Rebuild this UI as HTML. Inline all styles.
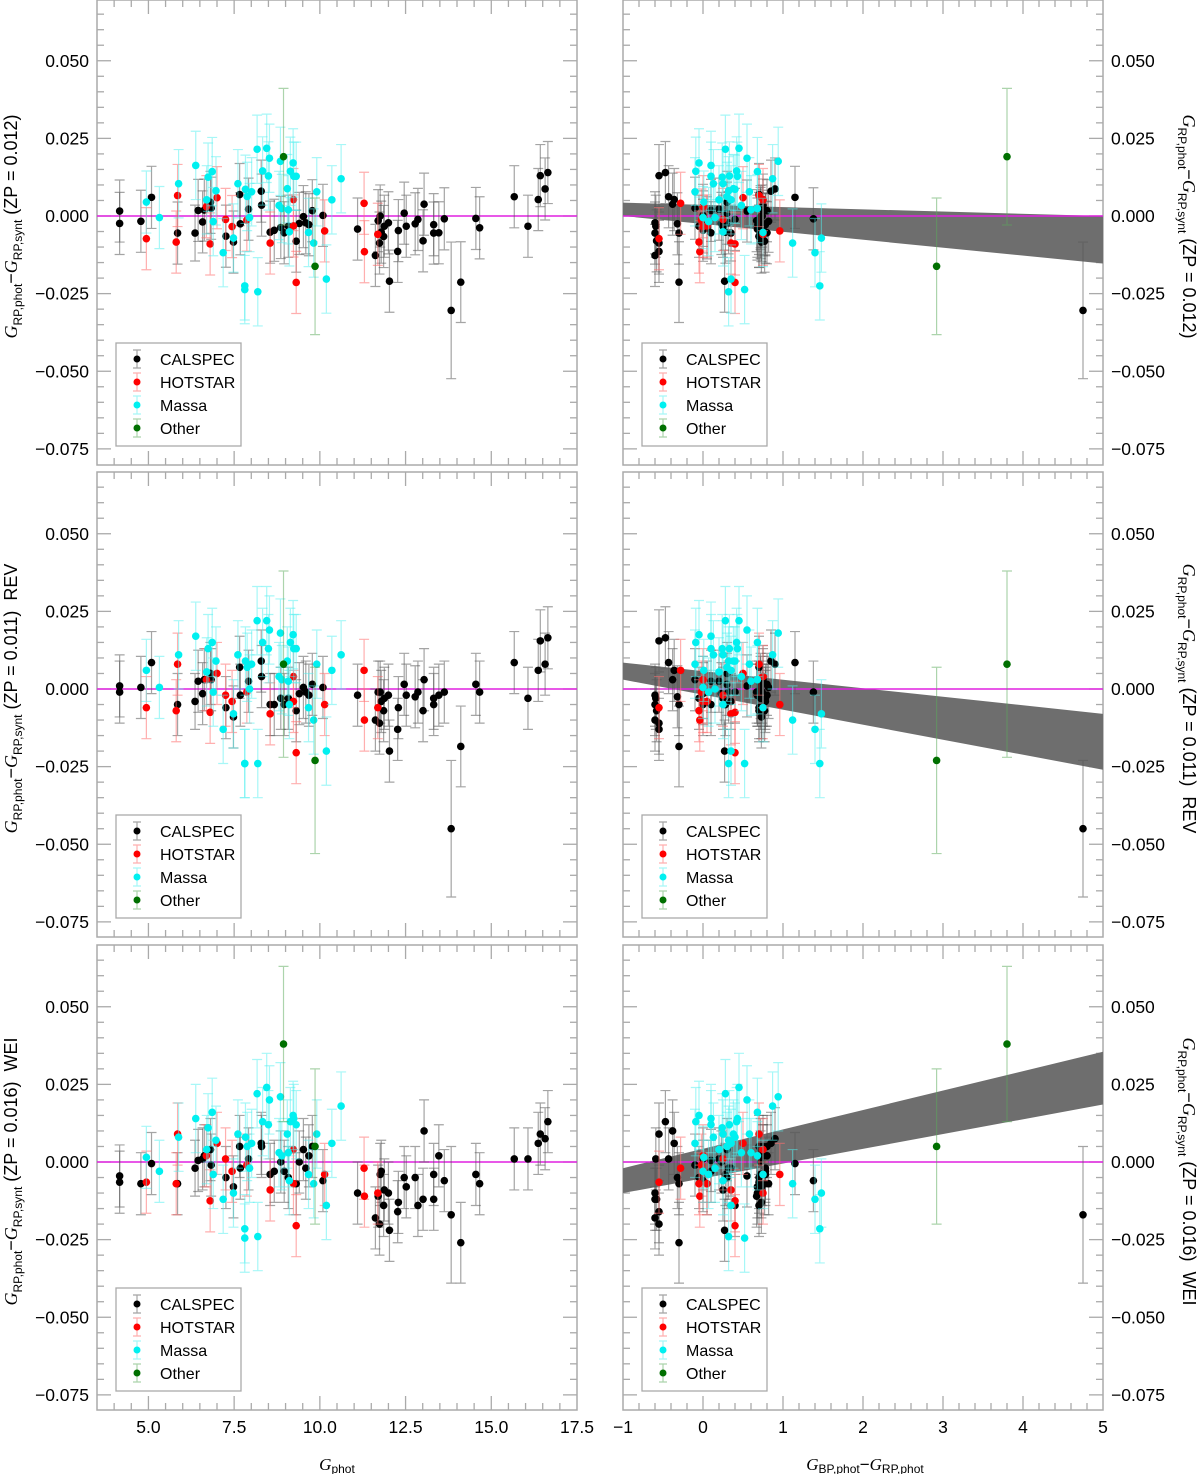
<!DOCTYPE html>
<html><head><meta charset="utf-8"><style>
body{margin:0;background:#fff;}
svg text{font-family:"Liberation Sans",sans-serif;}
</style></head><body>
<svg id="chart" width="1200" height="1474" viewBox="0 0 1200 1474" xmlns="http://www.w3.org/2000/svg"></svg>
<script>
// ---------- data ----------
const blackG   = [4.16,4.16,4.78,5.09,5.85,6.36,6.45,6.58,6.63,6.81,6.83,7.26,7.48,7.66,7.68,7.92,8.29,8.30,8.55,8.67,8.86,8.96,9.08,9.31,9.40,9.52,9.59,9.68,9.78,10.09,11.10,11.62,11.70,11.74,11.76,11.79,11.86,11.88,12.00,12.03,12.27,12.29,12.46,12.52,12.78,12.86,13.01,13.04,13.32,13.32,13.47,13.63,13.83,14.11,14.55,14.66,15.67,16.07,16.37,16.43,16.57,16.65];
const blackC   = [0.55,0.7,0.82,1.15,-0.3,0.35,0.1,0.0,0.75,0.3,-0.1,0.7,0.73,0.7,0.78,0.2,0.85,0.75,0.28,0.0,0.72,0.1,-0.05,0.77,0.23,0.72,0.32,0.75,0.8,0.0,0.68,-0.6,0.67,-0.55,0.74,0.78,0.7,0.25,-0.6,0.27,-0.55,0.73,0.3,0.68,-0.32,0.4,-0.58,-0.38,0.78,-0.6,0.8,1.38,4.75,-0.30,0.72,0.05,-0.43,-0.59,-0.36,-0.55,0.9,-0.47];
const blackTop = [1.6,-2.4,-1.7,6.0,-5.5,-5.5,1.8,-1.9,1.9,4.4,2.5,-6.5,-8.4,6.9,-2.5,2.2,8.0,3.5,-5.2,-4.6,-3.7,-5.4,-3.3,-8.1,-2.4,-0.2,-2.2,-2.8,1.7,0.2,-4.2,-12.7,-1.5,-8.7,0,-5.2,-6.6,-3.3,-2.2,-21,-11.4,-4.7,0.9,-3.3,-2.5,-1.1,-8.0,3.8,-2.8,-5.5,-5.4,-0.9,-30.4,-21.3,-0.8,-3.8,6.2,-3.3,5.3,13.0,8.7,14.0];
const blackRev = [1.0,-1.0,0.5,8.5,-5,-4,2.5,-1.5,3,5,3,-6,-9,7,-2,2.5,9,4,-5,-5,-3,-5,-3,-7,-1.5,0.5,-1,-2,1.5,0.5,-2,-10,-1,-11,-1,-4,-7,-3,-2,-20,-13,-6,1.5,-2,-2.5,-1,-7,3,-3,-5,-2,-1,-45,-18.5,1.5,-1,8.5,-3,6,15.5,8,16.5];
const blackWei = [-4.5,-6.5,-7,-0.5,-7,-2,0.5,1,2,4,-1,-5,-8,5,-2,1,6,5,-4,-3,0,-3,-5,-7,0,4,-2,2,5,-6,-10,-18,-11,-20,-4,-3,-14,-9,-10,-22,-16,-13,-5,-8,-5,-14,-12,10,-4,-12,2,-6,-17,-26,-4,-7,1,1,6,9,7.5,13];
const blackErr = [10,10,10,10,10,9,10,10,10,10,10,10,10,10,10,10,10,10,10,10,10,10,10,10,10,10,10,10,10,10,10,10,10,10,10,10,10,10,10,10,10,10,10,10,10,10,10,10,10,10,10,10,22,13,10,10,10,10,10,10,10,10];

const redG   = [4.94,5.85,5.81,6.69,6.80,7.00,7.25,7.44,7.87,8.55,9.23,9.23,9.31,10.14,11.29,11.30,11.69];
const redC   = [-0.55,0.7,-0.05,0.0,0.4,0.5,0.25,0.0,-0.02,0.35,0.75,0.05,0.4,0.96,-0.28,-0.04,0.75];
const redTop = [-7.3,6.6,-8.4,3.0,-9.0,5.9,-1.1,-3.4,-1.3,-8.7,5.3,-3.2,-21.4,-4.8,4.1,-11.5,-5.9];
const redRev = [-6,8,-7,3,-7.5,5,-2,-4,-1,-8,4,-4,-20.5,-5,6,-10,-6];
const redWei = [-6.5,9,-7,2,-12.5,6,1,-3,-1,-9,4,-7,-20.5,-4,-2,-11,-10];
const redErr = [10,10,10,10,10,10,10,10,10,10,10,10,10,10,10,10,10];

const cyanG   = [4.94,5.32,5.88,6.38,6.70,6.74,6.86,6.89,6.97,7.18,7.48,7.61,7.81,7.81,7.83,7.88,7.95,8.01,8.17,8.19,8.33,8.45,8.50,8.53,8.81,8.85,8.89,9.05,9.08,9.11,9.14,9.22,9.24,9.31,9.67,9.82,9.91,10.19,10.35,10.62];
const cyanC   = [0.01,0.0,0.13,0.10,0.2,0.24,0.68,0.07,0.32,1.40,1.48,0.25,1.46,0.52,0.40,0.3,0.15,-0.10,0.28,0.32,0.42,0.45,0.33,0.55,0.48,0.94,0.68,0.38,0.6,0.25,-0.09,-0.05,0.43,0.1,0.75,1.12,0.58,0.35,0.35,0.87];
const cyanTop = [4.5,-0.5,10.4,16.3,5.2,12.5,14.3,-1.8,8.1,-11.8,-7.1,10.4,-22.5,-23.7,8.6,6.3,-0.5,7.8,21.5,-24.4,14.5,21.8,12.9,18.6,3.4,17.6,2.4,8.8,2.0,-5.1,14.4,17.1,12.8,12.8,-5.3,-8.7,7.8,-20.3,5.2,12.0];
const cyanRev = [6,0.5,11,17,5.5,13,15,-1,9,-13,-8,11,-24,-24,9,7,0,8,22,-24,15,22,13,19,4,18,3,9,2.5,-5,15,17.5,13,13,-6,-10,8,-20,6,11];
const cyanWei = [1.5,-3,8,14,4,11,16,-4,7,-12,-10,9,-21.5,-24.5,8,5,-2,6,22,-24,13,24,12,20,3,21,2,9,3,-6,13,15,14,12,-4,-7,9,-14,6,18];
const cyanErr = [10,10,11,11,11,11,11,11,11,11,11,11,11,11,11,11,11,11,11,11,11,11,11,11,11,11,11,11,11,11,11,11,11,11,11,11,11,11,11,11];

const greenG   = [8.94,9.86];
const greenC   = [3.8,2.92];
const greenTop = [19.1,-16.2];
const greenRev = [8,-23];
const greenWei = [38,5];
const greenErr = [22,22];
const greenErrRev = [30,30];
const greenErrWei = [25,25];

// fit bands: values (mmag) at colour -1 and 5
const bandX      = [-1,5];
const bandTopHi  = [4.3,0];
const bandTopLo  = [0,-15.3];
const bandRevHi  = [8.5,-8];
const bandRevLo  = [3,-26];
const bandWeiHi  = [-2,35.5];
const bandWeiLo  = [-10,18.5];

const yTicks = [0.050,0.025,0.000,-0.025,-0.050,-0.075];
const yTickLabels = ["0.050","0.025","0.000","\u22120.025","\u22120.050","\u22120.075"];
const xTicksL = [5.0,7.5,10.0,12.5,15.0,17.5];
const xTickLabelsL = ["5.0","7.5","10.0","12.5","15.0","17.5"];
const xTicksR = [-1,0,1,2,3,4,5];
const xTickLabelsR = ["\u22121","0","1","2","3","4","5"];
const legendLabels = ["CALSPEC","HOTSTAR","Massa","Other"];
const zpLabels = ["0.012","0.011","0.016"];
const suffix = ["","REV","WEI"];

// ---------- drawing ----------
const NS="http://www.w3.org/2000/svg";
const svg=document.getElementById('chart');
function el(tag,attrs,parent){const e=document.createElementNS(NS,tag);for(const k in attrs)e.setAttribute(k,attrs[k]);(parent||svg).appendChild(e);return e;}

const rowTop=[0,472,945], rowBot=[465,937,1410], zeroY=[216,689,1162];
const PX=3.105; // px per mmag
const AX="#aaaaaa";
const cats=[
 {name:'calspec',dot:'#000',bar:'rgba(90,90,90,0.55)'},
 {name:'hotstar',dot:'#ff0000',bar:'rgba(255,110,110,0.55)'},
 {name:'massa',dot:'#00f0f0',bar:'rgba(80,240,240,0.5)'},
 {name:'other',dot:'#007000',bar:'rgba(90,170,90,0.5)'}
];
const Gs=[blackG,redG,cyanG,greenG], Cs=[blackC,redC,cyanC,greenC];
const R=[[blackTop,redTop,cyanTop,greenTop],[blackRev,redRev,cyanRev,greenRev],[blackWei,redWei,cyanWei,greenWei]];
const E=[[blackErr,redErr,cyanErr,greenErr],[blackErr,redErr,cyanErr,greenErrRev],[blackErr,redErr,cyanErr,greenErrWei]];
const bands=[[bandTopHi,bandTopLo],[bandRevHi,bandRevLo],[bandWeiHi,bandWeiLo]];

for(let row=0;row<3;row++){
 for(let side=0;side<2;side++){
  const x0=side?623:97, x1=side?1103:577, y0=rowTop[row], y1=rowBot[row];
  const xmin=side?-1:3.5, xmax=side?5:17.5;
  const sx=v=>x0+(v-xmin)/(xmax-xmin)*(x1-x0);
  const sy=m=>zeroY[row]-m*PX;
  const g=el('g',{});
  
  
  const clipId=`clip${row}${side}`;
  const cp=el('clipPath',{id:clipId},g); el('rect',{x:x0,y:y0,width:x1-x0,height:y1-y0},cp);
  const fr=el('rect',{x:x0,y:y0,width:x1-x0,height:y1-y0,fill:'none',stroke:AX,'stroke-width':1.5},g);
  
  
  for(let v=-0.080;v<=0.0701;v+=0.005){
   const y=sy(v*1000); if(y<y0+1||y>y1-1) continue;
   const major=Math.abs(Math.round(v*1000)%25)===0;
   const L=major?14:7;
   el('line',{x1:x0,x2:x0+L,y1:y,y2:y,stroke:AX,'stroke-width':1.3},g);
   el('line',{x1:x1,x2:x1-L,y1:y,y2:y,stroke:AX,'stroke-width':1.3},g);
  }
  const step=side?0.2:0.5;
  for(let v=xmin;v<=xmax+1e-6;v+=step){
   const x=sx(v); if(x<x0+1||x>x1-1) continue;
   const major=side?Math.abs(v-Math.round(v))<1e-6:Math.abs(v/2.5-Math.round(v/2.5))<1e-6;
   const L=major?14:7;
   el('line',{x1:x,x2:x,y1:y1,y2:y1-L,stroke:AX,'stroke-width':1.3},g);
   el('line',{x1:x,x2:x,y1:y0,y2:y0+L,stroke:AX,'stroke-width':1.3},g);
  }
  yTicks.forEach((v,i)=>{
   const t=el('text',{x:side?1111:89,y:sy(v*1000)+6,'font-size':17.5,'text-anchor':side?'start':'end',fill:'#000'},g);
   t.textContent=yTickLabels[i];
   
   
  });
  if(row===2){
   const tv=side?xTicksR:xTicksL, tl=side?xTickLabelsR:xTickLabelsL;
   tv.forEach((v,i)=>{
    const t=el('text',{x:sx(v),y:1433,'font-size':17.5,'text-anchor':'middle',fill:'#000'},g);
    t.textContent=tl[i];
    
    
   });
  }
  const pg=el('g',{'clip-path':`url(#${clipId})`},g);
  if(side){
   const [hi,lo]=bands[row];
   const pts=[[bandX[0],hi[0]],[bandX[1],hi[1]],[bandX[1],lo[1]],[bandX[0],lo[0]]].map(p=>sx(p[0])+','+sy(p[1])).join(' ');
   const b=el('polygon',{points:pts,fill:'#6e6e6e'},pg);
   
   
  }
  const zl=el('line',{x1:x0,x2:x1,y1:sy(0),y2:sy(0),stroke:'#e020e0','stroke-width':1.6},pg);
  
  
  for(let c=0;c<4;c++){
   const xs=side?Cs[c]:Gs[c], rs=R[row][c], es=E[row][c];
   for(let i=0;i<xs.length;i++){
    const x=sx(xs[i]), y=sy(rs[i]), e=es[i]*PX;
    const eb=el('path',{d:`M${x},${y-e}V${y+e}M${x-5},${y-e}H${x+5}M${x-5},${y+e}H${x+5}`,stroke:cats[c].bar,'stroke-width':1.2,fill:'none'},pg);
    
    
   }
   for(let i=0;i<xs.length;i++){
    const d=el('circle',{cx:sx(xs[i]),cy:sy(rs[i]),r:3.8,fill:cats[c].dot},pg);
    
    
   }
  }
  const lx=x0+19, ly=y0+343;
  const lg=el('g',{},g);
  
  
  el('rect',{x:lx,y:ly,width:125,height:103,fill:'#fff',stroke:AX,'stroke-width':1.3},lg);
  legendLabels.forEach((lab,i)=>{
   const yy=ly+16+i*23;
   const ent=el('g',{},lg);
   
   
   el('path',{d:`M${lx+21},${yy-9}V${yy+9}M${lx+17},${yy-9}H${lx+25}M${lx+17},${yy+9}H${lx+25}`,stroke:cats[i].bar,'stroke-width':1.2,fill:'none'},ent);
   el('circle',{cx:lx+21,cy:yy,r:3.5,fill:cats[i].dot},ent);
   const t=el('text',{x:lx+44,y:yy+6,'font-size':16,fill:'#000'},ent);
   t.textContent=lab;
  });
  const cy=(y0+y1)/2-6;
  const tx=side?1183:17;
  const title=el('text',{transform:`translate(${tx},${cy}) rotate(${side?90:-90})`,'text-anchor':'middle','font-size':18,fill:'#000'},g);
  
  
  title.innerHTML=`<tspan font-style="italic" font-family="Liberation Serif">G</tspan><tspan font-size="12" dy="5">RP,phot</tspan><tspan dy="-5">\u2212</tspan><tspan font-style="italic" font-family="Liberation Serif">G</tspan><tspan font-size="12" dy="5">RP,synt</tspan><tspan dy="-5"> (ZP = ${zpLabels[row]})${suffix[row]?'\u00a0\u00a0'+suffix[row]:''}</tspan>`;
 }
}
const xt1=el('text',{x:337,y:1470,'text-anchor':'middle','font-size':17,fill:'#000'});


xt1.innerHTML='<tspan font-style="italic" font-family="Liberation Serif">G</tspan><tspan font-size="12" dy="3">phot</tspan>';
const xt2=el('text',{x:865,y:1470,'text-anchor':'middle','font-size':17,fill:'#000'});


xt2.innerHTML='<tspan font-style="italic" font-family="Liberation Serif">G</tspan><tspan font-size="12" dy="3">BP,phot</tspan><tspan dy="-3">\u2212</tspan><tspan font-style="italic" font-family="Liberation Serif">G</tspan><tspan font-size="12" dy="3">RP,phot</tspan>';
</script>
</body></html>
